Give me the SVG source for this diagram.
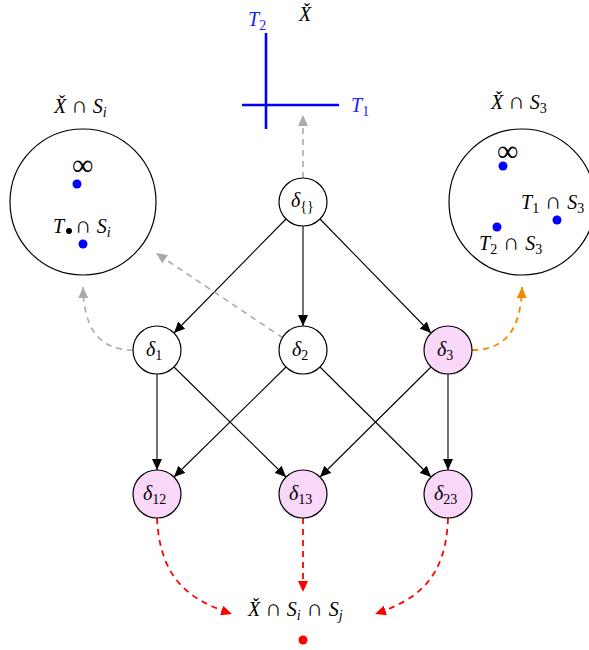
<svg xmlns="http://www.w3.org/2000/svg" width="589" height="650" viewBox="0 0 589 650">
<style>
.m{font-family:"Liberation Serif","DejaVu Serif",serif;font-style:italic;font-size:20px;fill:#000}
.r{font-style:normal}
.s{font-size:14px}
.c{font-family:"Liberation Serif",serif;font-style:normal;font-size:23px}
.inf{font-family:"Liberation Serif",serif;font-style:normal;font-size:30px}
.b{fill:#2020ff}
.node{fill:#fff;stroke:#000;stroke-width:1.2}
.pink{fill:#f8d7f8}
.e{stroke:#000;stroke-width:1.1;fill:none;marker-end:url(#ab)}
.g{stroke:#aaa;stroke-width:1.6;fill:none;stroke-dasharray:6,5;marker-end:url(#ag)}
.o{stroke:#f28a00;stroke-width:1.8;fill:none;stroke-dasharray:6,5;marker-end:url(#ao)}
.red{stroke:#f00;stroke-width:1.8;fill:none;stroke-dasharray:6,5;marker-end:url(#ar)}
.big{fill:none;stroke:#000;stroke-width:1.2}
</style>
<defs>
<marker id="ab" markerWidth="12" markerHeight="10" refX="11" refY="5" orient="auto" markerUnits="userSpaceOnUse"><path d="M0,0 L11,5 L0,10 Z" fill="#000"/></marker>
<marker id="ag" markerWidth="12" markerHeight="10" refX="11" refY="5" orient="auto" markerUnits="userSpaceOnUse"><path d="M0,0 L11,5 L0,10 Z" fill="#aaa"/></marker>
<marker id="ao" markerWidth="12" markerHeight="10" refX="11" refY="5" orient="auto" markerUnits="userSpaceOnUse"><path d="M0,0 L11,5 L0,10 Z" fill="#f28a00"/></marker>
<marker id="ar" markerWidth="12" markerHeight="10" refX="11" refY="5" orient="auto" markerUnits="userSpaceOnUse"><path d="M0,0 L11,5 L0,10 Z" fill="#f00"/></marker>
</defs>

<g id="connectors">
<line class="e" x1="286" y1="219" x2="174" y2="333"/>
<line class="e" x1="303" y1="226" x2="303" y2="326"/>
<line class="e" x1="320" y1="219" x2="431" y2="333"/>
<line class="e" x1="157" y1="374" x2="157" y2="470"/>
<line class="e" x1="174" y1="367" x2="286" y2="477"/>
<line class="e" x1="286" y1="367" x2="174" y2="477"/>
<line class="e" x1="320" y1="367" x2="431" y2="477"/>
<line class="e" x1="431" y1="367" x2="320" y2="477"/>
<line class="e" x1="448" y1="374" x2="448" y2="470"/>
<line class="g" x1="303" y1="178" x2="303" y2="115"/>
<line class="g" x1="283" y1="338" x2="156" y2="253"/>
<path class="g" d="M133,350 C100,350 84,330 83,287"/>
<path class="o" d="M472,350 C505,350 521,330 522,287"/>
<path class="red" d="M157,518 C160,580 190,600 232,614"/>
<line class="red" x1="303" y1="518" x2="303" y2="592"/>
<path class="red" d="M448,518 C446,580 416,600 375,614"/>
</g>

<g id="top-cross">
<line x1="266" y1="33" x2="266" y2="129" stroke="#0000ff" stroke-width="2.6"/>
<line x1="242" y1="105" x2="339" y2="105" stroke="#0000ff" stroke-width="2.6"/>
<text class="m b" x="248" y="26">T<tspan class="r s" dy="4">2</tspan></text>
<text class="m" x="299" y="21">X̌</text>
<text class="m b" x="351" y="112">T<tspan class="r s" dy="4">1</tspan></text>
</g>

<g id="left-circle">
<circle class="big" cx="83" cy="202" r="73"/>
<text class="m" x="54" y="113">X̌ <tspan class="c">∩</tspan> S<tspan class="s" dy="4">i</tspan></text>
<text class="inf" x="72" y="175">∞</text>
<circle cx="77" cy="184" r="4.5" fill="#0000ff"/>
<text class="m" x="53" y="233">T</text>
<circle cx="69" cy="231" r="3" fill="#000"/>
<text class="m" x="75" y="233"><tspan class="c">∩</tspan> S<tspan class="s" dy="4">i</tspan></text>
<circle cx="83" cy="244" r="4.5" fill="#0000ff"/>
</g>

<g id="right-circle">
<circle class="big" cx="522" cy="202" r="73"/>
<text class="m" x="491" y="109">X̌ <tspan class="c">∩</tspan> S<tspan class="r s" dy="4">3</tspan></text>
<text class="inf" x="497" y="161">∞</text>
<circle cx="503" cy="166" r="4.5" fill="#0000ff"/>
<text class="m" x="521" y="209">T<tspan class="r s" dy="4">1</tspan><tspan class="c" dy="-4"> ∩ </tspan>S<tspan class="r s" dy="4">3</tspan></text>
<circle cx="557" cy="220" r="4.5" fill="#0000ff"/>
<circle cx="497" cy="227" r="4.5" fill="#0000ff"/>
<text class="m" x="479" y="250">T<tspan class="r s" dy="4">2</tspan><tspan class="c" dy="-4"> ∩ </tspan>S<tspan class="r s" dy="4">3</tspan></text>
</g>

<g id="n-empty"><circle class="node" cx="303" cy="202" r="24"/><text class="m" x="291" y="207">δ<tspan class="r s" dy="4">{}</tspan></text></g>
<g id="n-1"><circle class="node" cx="157" cy="350" r="24"/><text class="m" x="146" y="356">δ<tspan class="r s" dy="4">1</tspan></text></g>
<g id="n-2"><circle class="node" cx="303" cy="350" r="24"/><text class="m" x="292" y="356">δ<tspan class="r s" dy="4">2</tspan></text></g>
<g id="n-3"><circle class="node pink" cx="448" cy="350" r="24"/><text class="m" x="437" y="356">δ<tspan class="r s" dy="4">3</tspan></text></g>
<g id="n-12"><circle class="node pink" cx="157" cy="494" r="24"/><text class="m" x="143" y="500">δ<tspan class="r s" dy="4">12</tspan></text></g>
<g id="n-13"><circle class="node pink" cx="303" cy="494" r="24"/><text class="m" x="289" y="500">δ<tspan class="r s" dy="4">13</tspan></text></g>
<g id="n-23"><circle class="node pink" cx="448" cy="494" r="24"/><text class="m" x="434" y="500">δ<tspan class="r s" dy="4">23</tspan></text></g>

<g id="bottom-target">
<text class="m" x="248" y="616">X̌ <tspan class="c">∩</tspan> S<tspan class="s" dy="4">i</tspan><tspan class="c" dy="-4"> ∩ </tspan>S<tspan class="s" dy="4">j</tspan></text>
<circle cx="303" cy="640" r="4.5" fill="#f00"/>
</g>
</svg>
